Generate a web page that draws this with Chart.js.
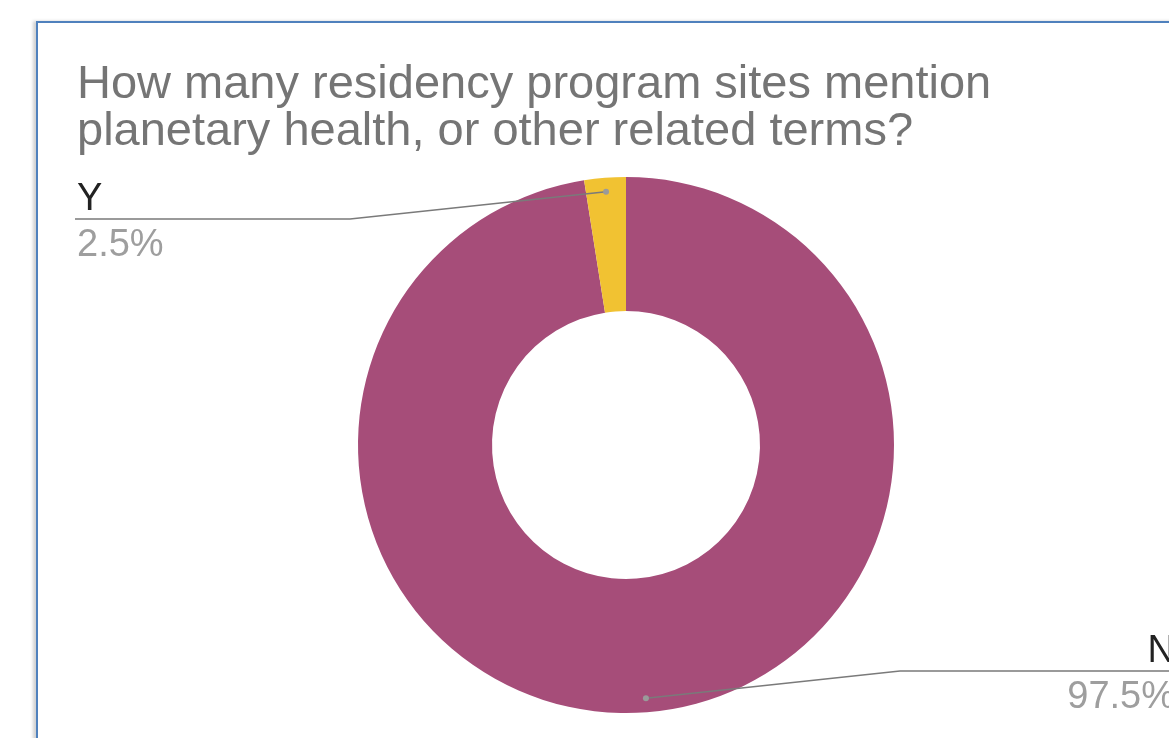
<!DOCTYPE html>
<html>
<head>
    <meta charset="utf-8">
    <title>Planetary health mentions</title>
    <script src="https://cdn.jsdelivr.net/npm/chart.js@4.4.6/dist/chart.umd.min.js"></script>
    <style>
        html, body { margin: 0; padding: 0; background: #fff; overflow: hidden; }
        #frame {
            position: absolute; left: 36px; top: 21px; width: 1300px; height: 900px;
            border-left: 2px solid #4f81bd; border-top: 2px solid #4f81bd;
            box-shadow: -3px 0 3px rgba(0, 0, 0, 0.18);
        }
        #myChart { position: absolute; left: 0; top: 0; }
    </style>
</head>
<body>
    <div id="frame"></div>
    <canvas id="myChart" width="1169" height="738"></canvas>
    <script>
        const titleLines = ["How many residency program sites mention", "planetary health, or other related terms?"]
        const categories = ["N", "Y"]
        const values = [97.5, 2.5]
        const colors = ["#a64d79", "#f1c232"]

        const FONT = "'Liberation Sans', Arial, sans-serif"

        // callout layout per slice: where the leader line bends, where the horizontal runs, and text anchor
        const callouts = {
            Y: { bend: [350, 219], end: 75, textX: 77, align: "left" },
            N: { bend: [900, 671], end: 1176, textX: 1175, align: "right" },
        }

        const calloutPlugin = {
            id: "callouts",
            afterDraw(chart) {
                const ctx = chart.ctx
                ctx.save()
                // title
                ctx.fillStyle = "#757575"
                ctx.font = "47px " + FONT
                ctx.textAlign = "left"
                ctx.textBaseline = "alphabetic"
                titleLines.forEach((line, i) => ctx.fillText(line, 77, 98 + i * 47))

                const meta = chart.getDatasetMeta(0)
                const total = values.reduce((a, b) => a + b, 0)
                meta.data.forEach((arc, i) => {
                    const c = callouts[categories[i]]
                    const mid = (arc.startAngle + arc.endAngle) / 2
                    const r = arc.outerRadius - 14
                    const px = arc.x + Math.cos(mid) * r
                    const py = arc.y + Math.sin(mid) * r
                    ctx.strokeStyle = "#7a7a7a"
                    ctx.lineWidth = 1.5
                    ctx.beginPath()
                    ctx.moveTo(px, py)
                    ctx.lineTo(c.bend[0], c.bend[1])
                    ctx.lineTo(c.end, c.bend[1])
                    ctx.stroke()
                    ctx.fillStyle = "#9a9a9a"
                    ctx.beginPath()
                    ctx.arc(px, py, 3, 0, Math.PI * 2)
                    ctx.fill()

                    ctx.font = "38px " + FONT
                    ctx.textAlign = c.align
                    ctx.fillStyle = "#222"
                    ctx.fillText(categories[i], c.textX, c.bend[1] - 9)
                    ctx.fillStyle = "#9e9e9e"
                    ctx.fillText((values[i] / total * 100).toFixed(1) + "%", c.textX, c.bend[1] + 37)
                })
                ctx.restore()
            },
        }

        const chart = new Chart(document.getElementById("myChart"), {
            type: "doughnut",
            data: {
                labels: categories,
                datasets: [{
                    data: values,
                    backgroundColor: colors,
                    borderWidth: 0,
                }],
            },
            options: {
                responsive: false,
                animation: false,
                cutout: "50%",
                layout: { padding: { left: 358, right: 275, top: 177, bottom: 25 } },
                plugins: {
                    legend: { display: false },
                    tooltip: { enabled: false },
                    title: { display: false },
                },
            },
            plugins: [calloutPlugin],
        })
    </script>
</body>
</html>
